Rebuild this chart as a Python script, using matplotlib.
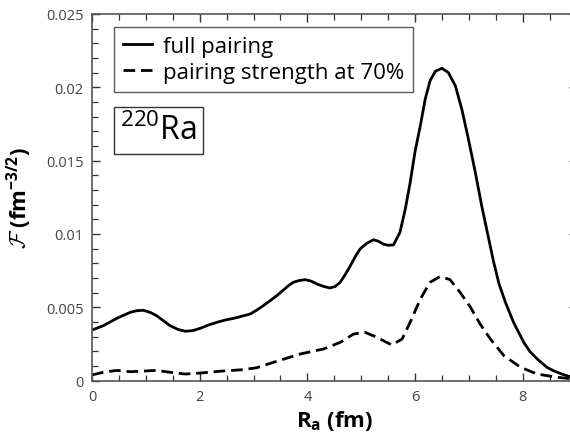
import matplotlib
matplotlib.use("Agg")
import matplotlib.pyplot as plt
from matplotlib.ticker import MultipleLocator, FixedLocator, FixedFormatter

# ---- data ----
x_full = [0.0, 0.21, 0.46, 0.71, 0.83, 0.95, 1.08, 1.2, 1.45, 1.6, 1.73, 1.87,
          2.01, 2.16, 2.32, 2.47, 2.63, 2.78, 2.94, 3.06, 3.18, 3.3, 3.43, 3.55,
          3.65, 3.74, 3.85, 3.96, 4.07, 4.18, 4.3, 4.42, 4.52, 4.61, 4.70, 4.80,
          4.89, 4.98, 5.1, 5.23, 5.32, 5.41, 5.5, 5.6, 5.72, 5.82, 5.91, 6.0,
          6.10, 6.19, 6.28, 6.38, 6.50, 6.62, 6.75, 6.87, 6.99, 7.12, 7.24, 7.37,
          7.46, 7.56, 7.68, 7.83, 8.02, 8.14, 8.27, 8.45, 8.57, 8.72, 8.85, 9.0]
y_full = [3.44, 3.74, 4.24, 4.65, 4.76, 4.79, 4.65, 4.42, 3.74, 3.48, 3.36, 3.40,
          3.56, 3.78, 3.97, 4.12, 4.24, 4.38, 4.54, 4.80, 5.10, 5.42, 5.78, 6.15,
          6.47, 6.70, 6.82, 6.88, 6.78, 6.58, 6.42, 6.31, 6.42, 6.70, 7.2, 7.83,
          8.45, 8.97, 9.35, 9.60, 9.50, 9.31, 9.22, 9.25, 10.1, 11.7, 13.5, 15.6,
          17.4, 19.2, 20.45, 21.1, 21.3, 21.0, 20.1, 18.5, 16.5, 14.2, 11.9, 9.65,
          8.1, 6.6, 5.33, 3.97, 2.6, 1.95, 1.47, 0.9, 0.67, 0.45, 0.29, 0.18]

x_70 = [0.0, 0.21, 0.46, 0.71, 1.2, 1.45, 1.73, 2.01, 2.44, 2.81, 3.06, 3.37,
        3.65, 3.87, 4.30, 4.61, 4.86, 5.07, 5.29, 5.35, 5.57, 5.76, 5.91, 6.10,
        6.28, 6.47, 6.65, 6.84, 7.03, 7.21, 7.40, 7.65, 7.96, 8.27, 8.64, 9.0]
y_70 = [0.38, 0.56, 0.69, 0.60, 0.69, 0.56, 0.44, 0.51, 0.65, 0.74, 0.87, 1.24,
        1.56, 1.81, 2.15, 2.60, 3.17, 3.29, 2.95, 2.83, 2.42, 2.83, 3.97, 5.56,
        6.7, 7.1, 6.88, 6.0, 5.0, 3.85, 2.83, 1.7, 0.9, 0.44, 0.22, 0.08]

labels = ["full pairing", "pairing strength at 70%"]
nucleus = "$^{220}$Ra"
x_major = [0, 2, 4, 6, 8]
y_major = [0, 0.005, 0.01, 0.015, 0.02, 0.025]
y_major_labels = ["0", "0.005", "0.01", "0.015", "0.02", "0.025"]

plt.rcParams['font.family'] = ['Open Sans', 'DejaVu Sans']
plt.rcParams['mathtext.fontset'] = 'custom'
plt.rcParams['mathtext.cal'] = 'cmsy10'
plt.rcParams['mathtext.default'] = 'regular'

fig = plt.figure(figsize=(5.70, 4.39), dpi=100)
ax = fig.add_axes([92/570, 57.5/439, 484.5/570, 366.5/439])

ax.plot(x_full, [v*1e-3 for v in y_full], color='black', lw=2.0,
        label=labels[0], solid_joinstyle='round')
ax.plot(x_70, [v*1e-3 for v in y_70], color='black', lw=2.0,
        dashes=(4.2, 2.1), label=labels[1])

ax.set_xlim(0, 9)
ax.set_ylim(0, 0.025)

ax.xaxis.set_major_locator(FixedLocator(x_major))
ax.xaxis.set_minor_locator(MultipleLocator(0.5))
ax.yaxis.set_major_locator(FixedLocator(y_major))
ax.yaxis.set_major_formatter(FixedFormatter(y_major_labels))
ax.yaxis.set_minor_locator(MultipleLocator(0.001))

for s in ax.spines.values():
    s.set_color('#555555')
    s.set_linewidth(1.2)

ax.tick_params(which='both', direction='in', top=True, right=True,
               color='#333333', labelcolor='#444444', labelsize=10.5)
ax.tick_params(which='major', length=6, width=1.0, pad=6)
ax.tick_params(which='minor', length=4, width=0.9)

ax.set_xlabel("R$_a$ (fm)", fontsize=16, fontweight='bold', labelpad=3)
ax.set_ylabel(r"$\mathcal{F}$ (fm$^{-3/2}$)", fontsize=16, fontweight='bold',
              labelpad=9)

leg = ax.legend(loc='upper left', bbox_to_anchor=(0.045, 0.965), fontsize=16,
                frameon=True, fancybox=False, handlelength=1.3,
                handletextpad=0.5, borderpad=0.4, labelspacing=0.25,
                borderaxespad=0)
leg.get_frame().set_edgecolor('#333333')
leg.get_frame().set_linewidth(1.0)

ax.text(0.058, 0.682, nucleus, transform=ax.transAxes, fontsize=23,
        va='center', ha='left',
        bbox=dict(boxstyle='square,pad=0.2', fc='white', ec='#333333', lw=1.0))

fig.savefig("out.png", dpi=100)
